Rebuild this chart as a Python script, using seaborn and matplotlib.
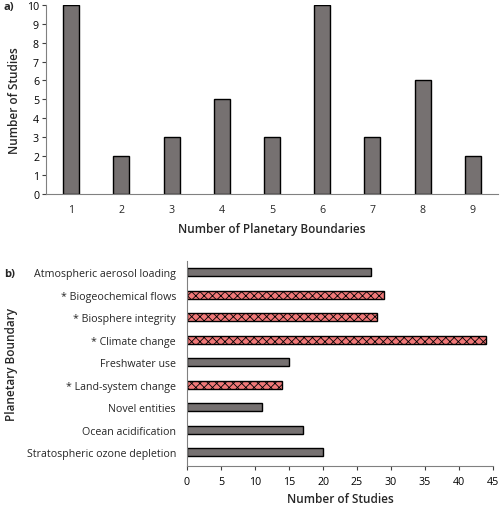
import numpy as np
import pandas as pd
import seaborn as sns
import matplotlib.pyplot as plt

# panel a) data
n_boundaries = ["1", "2", "3", "4", "5", "6", "7", "8", "9"]
n_studies_a = [10, 2, 3, 5, 3, 10, 3, 6, 2]

# panel b) data
boundaries = ["Atmospheric aerosol loading", "* Biogeochemical flows",
              "* Biosphere integrity", "* Climate change", "Freshwater use",
              "* Land-system change", "Novel entities", "Ocean acidification",
              "Stratospheric ozone depletion"]
n_studies_b = [27, 29, 28, 44, 15, 14, 11, 17, 20]

sns.set_theme(style="white")
plt.rcParams['font.family'] = ['Open Sans', 'DejaVu Sans']
plt.rcParams['hatch.linewidth'] = 0.6

grey = "#767171"
red = "#F07878"

fig = plt.figure(figsize=(5, 5.06), dpi=100)
ax1 = fig.add_axes([0.092, 0.6146, 0.904, 0.374])
ax2 = fig.add_axes([0.374, 0.077, 0.612, 0.405])

df_a = pd.DataFrame({"n": n_boundaries, "studies": n_studies_a})
sns.barplot(data=df_a, x="n", y="studies", color=grey, width=0.32,
            edgecolor="black", linewidth=1, saturation=1, ax=ax1)
ax1.set_xlim(-0.5, 8.5)
ax1.set_ylim(0, 10)
ax1.set_yticks(range(0, 11))
ax1.set_xlabel("Number of Planetary Boundaries", fontsize=8.5,
               fontweight="semibold", labelpad=5)
ax1.set_ylabel("Number of Studies", fontsize=8.5, fontweight="semibold")
ax1.tick_params(axis="y", left=True, length=3, width=0.8, labelsize=7.7,
                colors="#404040", labelcolor="black", pad=2)
ax1.tick_params(axis="x", bottom=False, length=0, labelsize=7.7, pad=7)
for s in ["top", "right"]:
    ax1.spines[s].set_visible(False)
for s in ["left", "bottom"]:
    ax1.spines[s].set_color("#808080")
    ax1.spines[s].set_linewidth(0.8)

df_b = pd.DataFrame({"boundary": boundaries, "studies": n_studies_b})
colors = [red if b.startswith("*") else grey for b in boundaries]
sns.barplot(data=df_b, x="studies", y="boundary", hue="boundary",
            palette=colors, legend=False, width=0.36, edgecolor="black",
            linewidth=1, saturation=1, ax=ax2)
for patch, b in zip(ax2.patches, boundaries):
    if b.startswith("*"):
        patch.set_hatch("xxxx")
ax2.set_xlim(0, 45)
ax2.set_ylim(8.62, -0.49)
ax2.set_xticks(range(0, 46, 5))
ax2.set_xlabel("Number of Studies", fontsize=8.5, fontweight="semibold",
               labelpad=4)
ax2.set_ylabel("Planetary Boundary", fontsize=8.5, fontweight="semibold",
               labelpad=6)
ax2.tick_params(axis="x", bottom=True, length=3, width=0.8, labelsize=7.7,
                colors="#404040", labelcolor="black", pad=4)
ax2.tick_params(axis="y", left=False, length=0, labelsize=7.7, pad=8)
ax2.spines["top"].set_visible(False)
ax2.spines["right"].set_visible(False)
for s in ["left", "bottom"]:
    ax2.spines[s].set_color("#808080")
    ax2.spines[s].set_linewidth(0.8)

fig.text(0.008, 0.997, "a)", fontsize=8, fontweight="bold", va="top")
fig.text(0.008, 0.468, "b)", fontsize=8, fontweight="bold", va="top")

fig.savefig("out.png", dpi=100)
